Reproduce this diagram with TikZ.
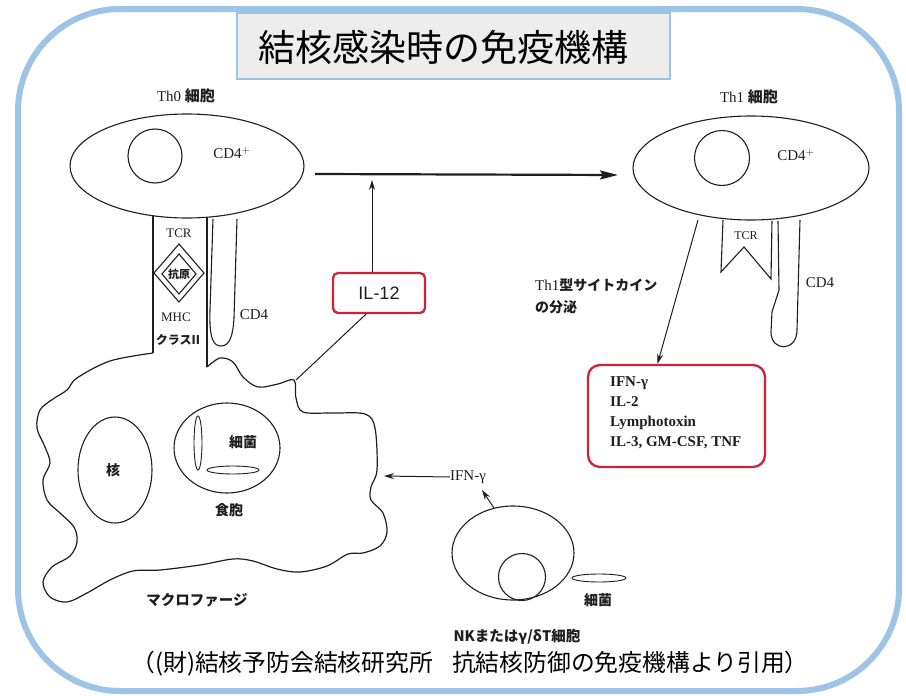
\documentclass[tikz,border=0pt]{standalone}
\usepackage{fontspec}
\setmainfont{Liberation Serif}
\newfontfamily\jp{Noto Sans CJK JP}
\newfontfamily\lsans{Liberation Sans}
\usetikzlibrary{shapes.geometric,arrows.meta,calc}
\definecolor{frameblue}{RGB}{157,195,230}
\definecolor{titlegray}{RGB}{237,237,237}
\definecolor{boxred}{RGB}{205,35,55}
\definecolor{ink}{RGB}{30,30,30}
\begin{document}
\begin{tikzpicture}[x=1pt,y=-1pt,
  cell/.style={draw=ink,line width=1.1pt},
  oval/.style={cell,ellipse,inner sep=0pt},
  rod/.style={cell,ellipse,inner sep=0pt,line width=0.9pt},
  lbl/.style={inner sep=0pt,text=ink,font=\fontsize{15}{17}\selectfont},
  jlbl/.style={inner sep=0pt,text=ink,font=\jp\bfseries\fontsize{14}{16}\selectfont},
  redbox/.style={draw=boxred,line width=2.3pt,fill=white,rounded corners=7pt},
  arr/.style={draw=ink,line width=1pt,-{Stealth[length=10pt,width=6pt]}},
  bigarr/.style={draw=ink,line width=2.2pt,-{Stealth[length=18pt,width=9pt,inset=3pt]}}]
\useasboundingbox (0,0) rectangle (906,696);

% outer frame
\draw[frameblue,line width=6pt,rounded corners=102pt] (18,9) rectangle (899,691);

% title
\draw[frameblue,line width=1.5pt,fill=titlegray] (237,13) rectangle (670,79);
\node[inner sep=0pt,font=\jp\fontsize{37}{40}\selectfont] (title) at (443,47) {結核感染時の免疫機構};

% ---------- Th0 cell ----------
\node[oval,minimum width=234pt,minimum height=104pt] (th0) at (187,166) {};
\node[cell,circle,minimum size=54pt,inner sep=0pt] (th0nuc) at (155,156) {};
\node[lbl] (th0name) at (186,96) {Th0 {\jp\bfseries 細胞}};
\node[lbl] (th0cd) at (232,153) {CD4$^{+}$};

% TCR / antigen / MHC class II column
\draw[cell] (153,216) -- (153,353);
\draw[cell] (207,217) -- (207,367);
\node[lbl,font=\fontsize{13}{15}\selectfont] (tcr0) at (179,233) {TCR};
\draw[cell] (179,244) -- (204,273) -- (179,302) -- (154,273) -- cycle;
\draw[cell] (179,254) -- (196,274) -- (179,294) -- (162,274) -- cycle;
\node[jlbl,font=\jp\bfseries\fontsize{11}{13}\selectfont] (antigen) at (179,274) {抗原};
\node[lbl,font=\fontsize{13}{15}\selectfont] (mhc) at (176,317) {MHC};
\node[jlbl,font=\jp\bfseries\fontsize{12}{14}\selectfont] (cls2) at (178,340) {クラスII};

% CD4 molecule on Th0
\draw[cell] (213,219) -- (210,310) .. controls (209,340) and (214,346) .. (221,346)
  .. controls (230,346) and (233,335) .. (234,318) -- (237,219);
\node[lbl] (cd4a) at (254,315) {CD4};

% ---------- Th1 cell ----------
\node[oval,minimum width=236pt,minimum height=104pt] (th1) at (751,168) {};
\node[cell,circle,minimum size=55pt,inner sep=0pt] (th1nuc) at (722,158) {};
\node[lbl] (th1name) at (749,97) {Th1 {\jp\bfseries 細胞}};
\node[lbl] (th1cd) at (796,155) {CD4$^{+}$};

% TCR on Th1
\draw[cell] (723,220) -- (721,272) -- (744,247) -- (771,279) -- (772,221);
\node[lbl,font=\fontsize{12}{14}\selectfont] (tcr1) at (746,236) {TCR};

% CD4 molecule on Th1
\draw[cell] (778,221) -- (779,290) -- (772,312) -- (771,332)
  .. controls (771,352) and (797,352) .. (797,330) -- (800,220);
\node[lbl] (cd4b) at (820,283) {CD4};

% activation arrow Th0 -> Th1
\coordinate (actL) at (315,174);
\coordinate (actR) at (618,175);
\draw[bigarr] (actL) -- (actR);

% IL-12
\node[redbox,rounded corners=5pt,minimum width=92pt,minimum height=40pt,inner sep=0pt,
  font=\lsans\fontsize{18}{20}\selectfont,text=ink] (il12) at (379,293) {IL-12};
\coordinate (il12up) at (372,180);
\draw[arr] (il12.north -| il12up) -- (il12up);

% Th1 cytokine secretion
\node[jlbl,align=left,anchor=west,font=\jp\bfseries\fontsize{14}{22}\selectfont] (secr) at (535,296)
  {{\rmfamily\mdseries\fontsize{15}{22}\selectfont Th1}型サイトカイン\\の分泌};
\node[redbox,rounded corners=12pt,minimum width=177pt,minimum height=102pt,
  inner sep=0pt] (cyto) at (676.5,416) {};
\node[inner sep=0pt,anchor=west,align=left,text=ink,
  font=\bfseries\fontsize{15}{20}\selectfont] (cytotext) at (610,413)
  {IFN-γ\\IL-2\\Lymphotoxin\\IL-3, GM-CSF, TNF};
\coordinate (th1out) at (698,220);
\draw[arr] (th1out) -- ($(cyto.north)+(-19,0)$);

% ---------- macrophage ----------
\draw[cell,line width=1.2pt] plot[smooth,tension=0.55] coordinates {
  (207,367) (220,358) (233,362) (243,377) (258,387) (278,384) (294,380)
  (296,398) (303,412) (333,413) (365,414) (375,428) (377,470) (371,487)
  (371,500) (383,513) (387,532) (380,546) (363,553) (348,554) (327,566)
  (300,572) (277,569) (253,561) (233,559) (200,565) (160,570) (133,571)
  (110,580) (87,593) (67,602) (50,597) (43,582) (52,567) (70,556)
  (77,542) (74,527) (60,513) (47,500) (43,480) (50,463) (45,447)
  (37,428) (40,410) (53,399) (67,390) (77,378) (110,361) (153,353)};
\coordinate (mphTop) at (296,380);
\coordinate (mphRight) at (384,476);
\draw[cell,line width=1pt] (mphTop) -- ($(il12.south)+(-13,0)$);

% nucleus and phagosome
\node[oval,minimum width=74pt,minimum height=106pt] (mnuc) at (115,470) {};
\node[jlbl] (mnuclbl) at (113,470) {核};
\node[oval,minimum width=106pt,minimum height=90pt] (phago) at (227,448) {};
\node[rod,minimum width=8pt,minimum height=54pt] (bac1) at (198,443) {};
\node[rod,minimum width=52pt,minimum height=8pt] (bac2) at (233,470) {};
\node[jlbl] (baclbl) at (243,442) {細菌};
\node[jlbl] (phagolbl) at (229,510) {食胞};
\node[jlbl,font=\jp\bfseries\fontsize{14.5}{16}\selectfont] (mphlbl) at (197,600) {マクロファージ};

% IFN-gamma from NK cell
\node[lbl,font=\fontsize{15}{17}\selectfont] (ifn) at (468,477) {IFN-γ};
\draw[arr] (ifn.west) -- (mphRight);

% ---------- NK / gamma-delta T cell ----------
\node[oval,minimum width=122pt,minimum height=94pt] (nk) at (513,553) {};
\node[cell,circle,minimum size=47pt,inner sep=0pt] (nknuc) at (522,577) {};
\node[rod,minimum width=54pt,minimum height=8pt] (nkbac) at (599,578) {};
\node[jlbl] (nkbaclbl) at (598,600) {細菌};
\coordinate (nkTip) at (482,490);
\draw[arr] (nk.113) -- (nkTip);
\node[jlbl,font=\jp\bfseries\fontsize{14.5}{16}\selectfont] (nklbl) at (517,637) {NKまたはγ/δT細胞};

% citation
\node[inner sep=0pt,font=\jp\fontsize{23.8}{26}\selectfont] (cite) at (470,664)
  {（(財)結核予防会結核研究所\hspace{0.8em}抗結核防御の免疫機構より引用）};
\end{tikzpicture}
\end{document}
